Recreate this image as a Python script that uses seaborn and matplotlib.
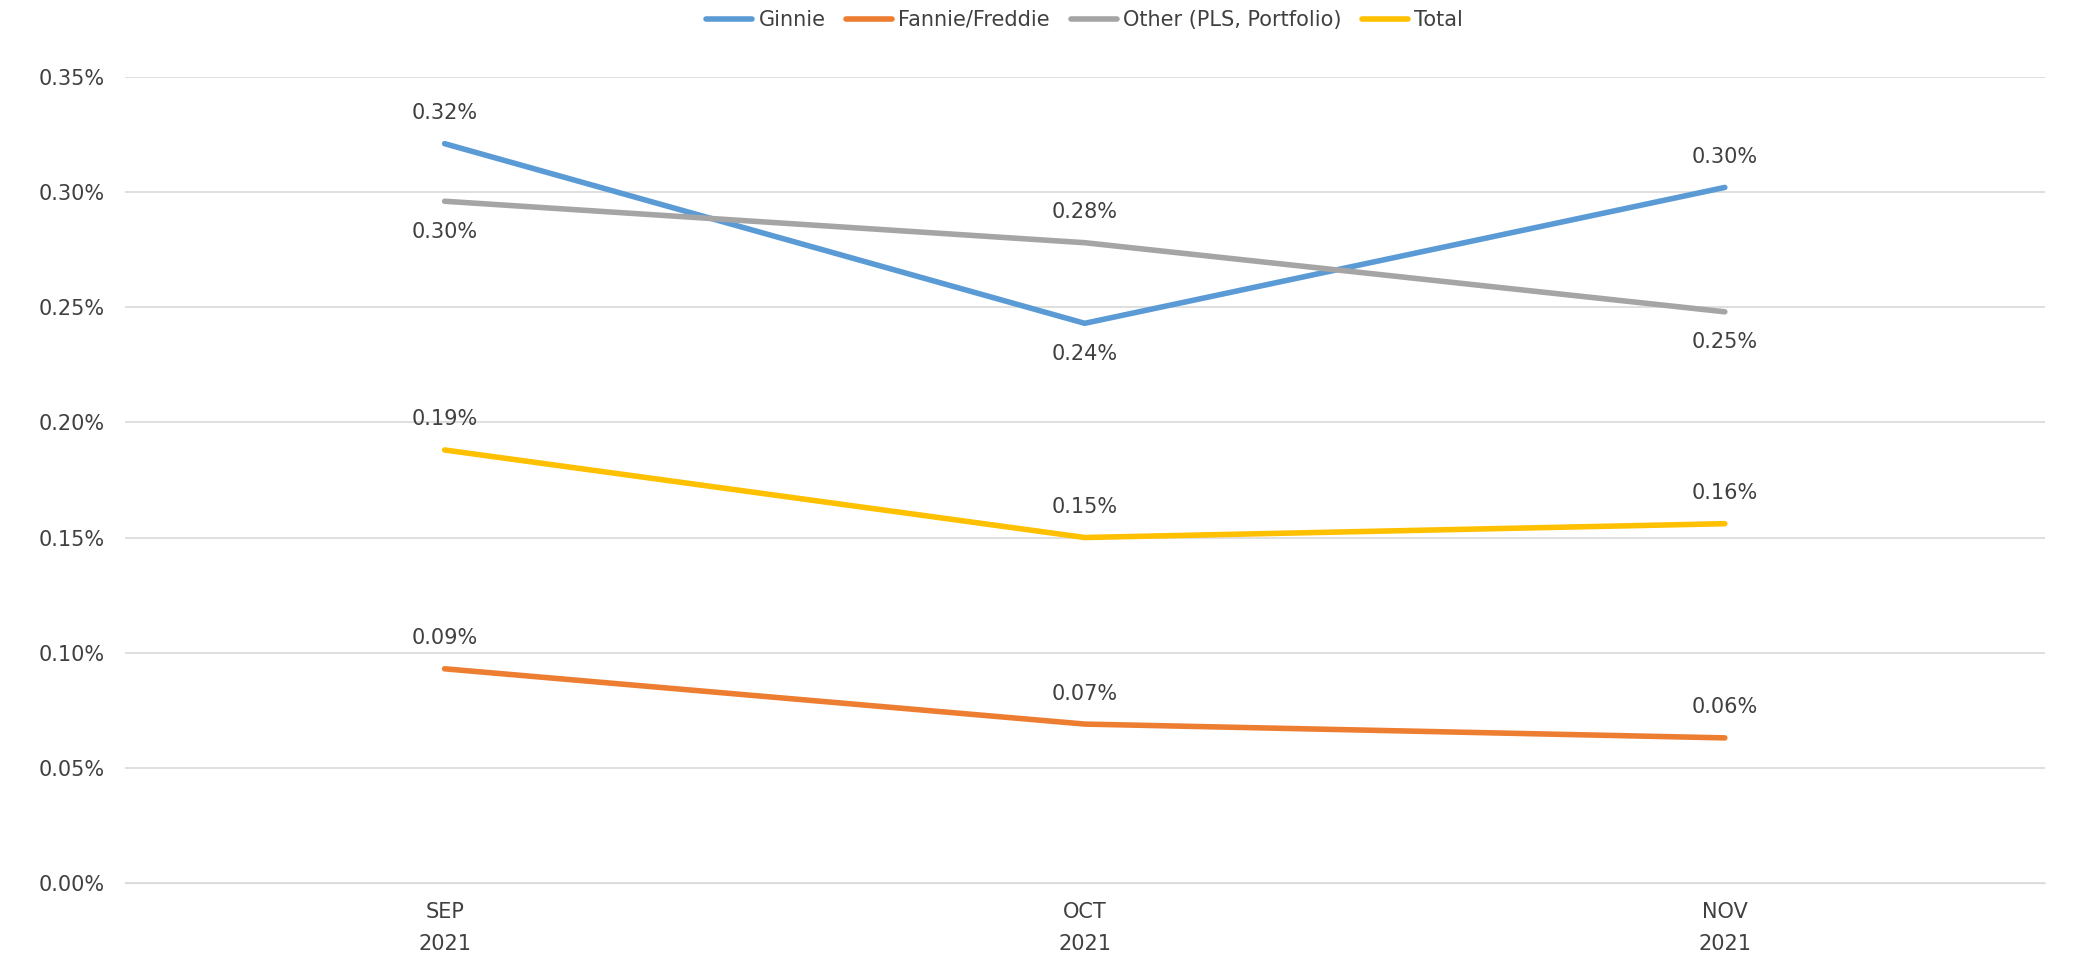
import pandas as pd
import matplotlib.pyplot as plt
import seaborn as sns
from matplotlib.ticker import FuncFormatter

months = ['SEP\n2021', 'OCT\n2021', 'NOV\n2021']
ginnie = [0.321, 0.243, 0.302]
fannie = [0.093, 0.069, 0.063]
other = [0.296, 0.278, 0.248]
total = [0.188, 0.150, 0.156]

series = ['Ginnie', 'Fannie/Freddie', 'Other (PLS, Portfolio)', 'Total']
colors = ['#5B9BD5', '#ED7D31', '#A5A5A5', '#FFC000']
# label placement per point: 1 above, -1 below
place = {'Ginnie': [1, -1, 1], 'Fannie/Freddie': [1, 1, 1],
         'Other (PLS, Portfolio)': [-1, 1, -1], 'Total': [1, 1, 1]}

rows = []
for name, vals in zip(series, [ginnie, fannie, other, total]):
    for i, v in enumerate(vals):
        rows.append({'month': i, 'value': v, 'series': name})
df = pd.DataFrame(rows)

sns.set_style('white')
plt.rcParams['font.family'] = ['DejaVu Sans']
fig, ax = plt.subplots(figsize=(20.76, 9.73), dpi=100)
fig.subplots_adjust(left=0.06, right=0.985, top=0.921, bottom=0.0925)

sns.lineplot(data=df, x='month', y='value', hue='series', hue_order=series,
             palette=colors, linewidth=4, ax=ax)

for name, vals in zip(series, [ginnie, fannie, other, total]):
    for i, v in enumerate(vals):
        d = place[name][i]
        ax.annotate(f'{v:.2f}%', (i, v), xytext=(0, 22 * d), textcoords='offset points',
                    ha='center', va='center', fontsize=15, color='#404040')

ax.set_xlim(-0.5, 2.5)
ax.set_ylim(0, 0.35)
ax.set_yticks([0, 0.05, 0.10, 0.15, 0.20, 0.25, 0.30, 0.35])
ax.yaxis.set_major_formatter(FuncFormatter(lambda v, p: f'{v:.2f}%'))
ax.set_xticks([0, 1, 2])
ax.set_xticklabels(months, linespacing=1.7)
ax.tick_params(axis='both', labelsize=15, colors='#404040', length=0, pad=14)
ax.grid(axis='y', color='#D9D9D9', linewidth=1.2)
ax.set_xlabel('')
ax.set_ylabel('')
for s in ['top', 'right', 'left']:
    ax.spines[s].set_visible(False)
ax.spines['bottom'].set_color('#D9D9D9')

ax.legend(loc='lower center', bbox_to_anchor=(0.5, 1.035), ncol=4, frameon=False,
          fontsize=15, handlelength=2.2, columnspacing=1.0, handletextpad=0.3,
          labelcolor='#404040')

fig.savefig('out.png', dpi=100)
